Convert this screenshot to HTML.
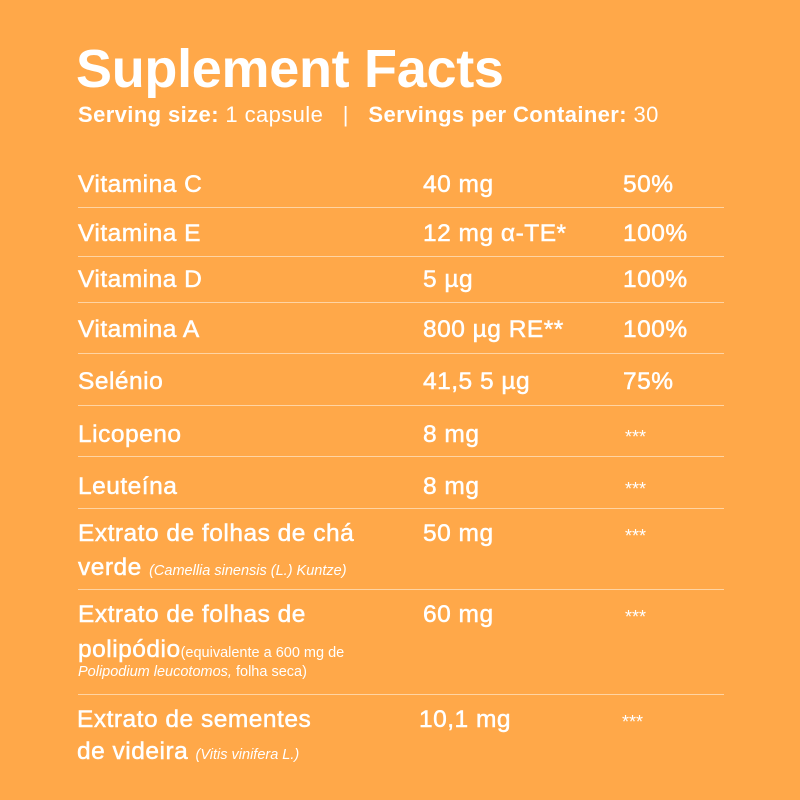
<!DOCTYPE html>
<html><head><style>
body{margin:0;width:800px;height:800px;background:#FFA849;font-family:"Liberation Sans",sans-serif;color:#fff;position:relative;overflow:hidden}
div{position:absolute;white-space:nowrap}
.t{font-size:24.5px;line-height:26px;letter-spacing:0.5px;-webkit-text-stroke:0.5px #fff}
.h{left:78px;right:76px;height:1px;background:#FFD4A3}
i{font-size:14.5px;letter-spacing:0;-webkit-text-stroke:0}
.s{font-size:14.5px;line-height:16px}
.a{font-size:18px!important;letter-spacing:0!important;-webkit-text-stroke:0!important}
</style></head><body>
<div style="left:76px;top:38px;font-size:54px;font-weight:bold;line-height:62px;letter-spacing:-0.3px">Suplement Facts</div>
<div style="left:78px;top:102px;font-size:22px;line-height:26px;letter-spacing:0.4px"><b>Serving size:</b> 1 capsule &nbsp; | &nbsp; <b>Servings per Container:</b> 30</div>

<div class="t" style="left:78px;top:172px">Vitamina C</div><div class="t" style="left:423px;top:172px">40 mg</div><div class="t" style="left:623px;top:172px">50%</div>
<div class="h" style="top:207px"></div>
<div class="t" style="left:78px;top:221px">Vitamina E</div><div class="t" style="left:423px;top:221px">12 mg α-TE*</div><div class="t" style="left:623px;top:221px">100%</div>
<div class="h" style="top:256px"></div>
<div class="t" style="left:78px;top:267px">Vitamina D</div><div class="t" style="left:423px;top:267px">5 µg</div><div class="t" style="left:623px;top:267px">100%</div>
<div class="h" style="top:302px"></div>
<div class="t" style="left:78px;top:317px">Vitamina A</div><div class="t" style="left:423px;top:317px">800 µg RE**</div><div class="t" style="left:623px;top:317px">100%</div>
<div class="h" style="top:353px"></div>
<div class="t" style="left:78px;top:369px">Selénio</div><div class="t" style="left:423px;top:369px">41,5 5 µg</div><div class="t" style="left:623px;top:369px">75%</div>
<div class="h" style="top:405px"></div>
<div class="t" style="left:78px;top:422px">Licopeno</div><div class="t" style="left:423px;top:422px">8 mg</div><div class="t a" style="left:625px;top:424px">***</div>
<div class="h" style="top:456px"></div>
<div class="t" style="left:78px;top:474px">Leuteína</div><div class="t" style="left:423px;top:474px">8 mg</div><div class="t a" style="left:625px;top:476px">***</div>
<div class="h" style="top:508px"></div>
<div class="t" style="left:78px;top:521px">Extrato de folhas de chá</div><div class="t" style="left:423px;top:521px">50 mg</div><div class="t a" style="left:625px;top:523px">***</div>
<div class="t" style="left:78px;top:555px">verde <i>(Camellia sinensis (L.) Kuntze)</i></div>
<div class="h" style="top:589px"></div>
<div class="t" style="left:78px;top:602px">Extrato de folhas de</div><div class="t" style="left:423px;top:602px">60 mg</div><div class="t a" style="left:625px;top:604px">***</div>
<div class="t" style="left:78px;top:637px">polipódio<span style="font-size:14.5px;letter-spacing:0;-webkit-text-stroke:0">(equivalente a 600 mg de</span></div>
<div class="s" style="left:78px;top:664px"><i>Polipodium leucotomos,</i> folha seca)</div>
<div class="h" style="top:694px"></div>
<div class="t" style="left:77px;top:707px">Extrato de sementes</div><div class="t" style="left:419px;top:707px">10,1 mg</div><div class="t a" style="left:622px;top:709px">***</div>
<div class="t" style="left:77px;top:739px">de videira <i>(Vitis vinifera L.)</i></div>
</body></html>
